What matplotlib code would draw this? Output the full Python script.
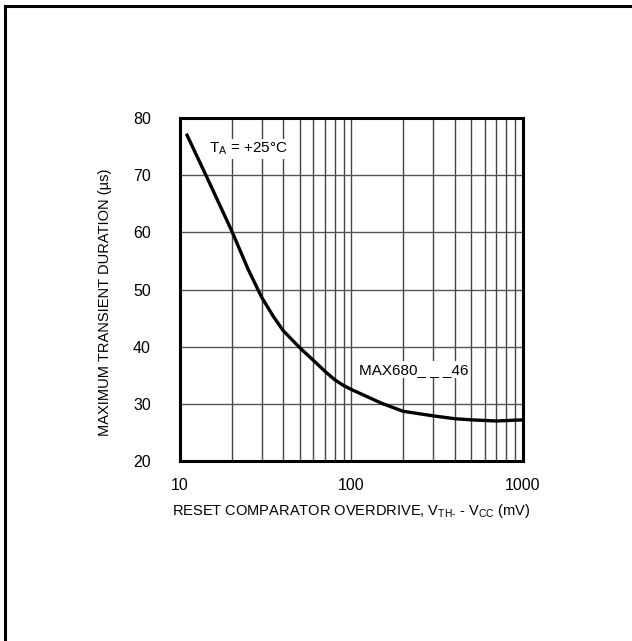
import matplotlib
matplotlib.use("Agg")
import matplotlib.pyplot as plt
from matplotlib.lines import Line2D
from matplotlib.ticker import FixedLocator, NullFormatter

# data
overdrive_mv = [11, 15, 20, 25, 30, 35, 40, 50, 60, 70, 80, 90, 100,
                150, 200, 300, 400, 500, 700, 1000]
duration_us = [77, 68.4, 60.3, 53.5, 48.6, 45.3, 42.8, 39.8, 37.6, 35.7, 34.2,
               33.2, 32.5, 30.1, 28.7, 27.9, 27.4, 27.2, 27.0, 27.2]

x_ticks = [10, 100, 1000]
x_ticklabels = ["10", "100", "1000"]
y_ticks = [20, 30, 40, 50, 60, 70, 80]

FONT = ["Liberation Sans Narrow", "Liberation Sans", "DejaVu Sans"]
plt.rcParams["font.family"] = FONT
plt.rcParams["mathtext.fontset"] = "custom"
plt.rcParams["mathtext.rm"] = "Liberation Sans"
plt.rcParams["mathtext.it"] = "Liberation Sans:italic"

fig = plt.figure(figsize=(6.32, 6.41), dpi=100)

# frame lines on top and left of the page
fig.add_artist(Line2D([0.008, 0.008], [0, 0.991], transform=fig.transFigure,
                      color="black", lw=2.2))
fig.add_artist(Line2D([0.008, 1.0], [0.991, 0.991], transform=fig.transFigure,
                      color="black", lw=2.2))

ax = fig.add_axes([0.2848, 0.2808, 0.5427, 0.535])

ax.set_xscale("log")
ax.set_xlim(10, 1000)
ax.set_ylim(20, 80)

minor = [m * d for d in (10, 100) for m in range(2, 10)]
ax.xaxis.set_major_locator(FixedLocator(x_ticks))
ax.xaxis.set_minor_locator(FixedLocator(minor))
ax.xaxis.set_minor_formatter(NullFormatter())
ax.set_xticklabels(x_ticklabels)
ax.set_yticks(y_ticks)

ax.grid(True, which="both", axis="x", color="#444444", lw=1.0)
ax.grid(True, which="major", axis="y", color="#555555", lw=1.0)
ax.set_axisbelow(True)

ax.tick_params(axis="both", which="both", length=0, labelsize=11.5)
ax.tick_params(axis="y", pad=21)
ax.tick_params(axis="x", pad=12)

for s in ax.spines.values():
    s.set_linewidth(2.2)

ax.plot(overdrive_mv, duration_us, color="black", lw=2.4, zorder=3)

ax.text(14.8, 74.6, "T$_{\\mathrm{A}}$ = +25°C", fontsize=11, va="center",
        ha="left", zorder=4,
        bbox=dict(facecolor="white", edgecolor="none", pad=1))
ax.text(110, 36, "MAX680_ _ _46", fontsize=11, va="center", ha="left",
        zorder=4, bbox=dict(facecolor="white", edgecolor="none", pad=1))

ax.set_xlabel("RESET COMPARATOR OVERDRIVE, V$_{\\mathrm{TH\\text{-}}}$ - V$_{\\mathrm{CC}}$ (mV)",
              fontsize=10.5, labelpad=7)
ax.set_ylabel("MAXIMUM TRANSIENT DURATION (µs)", fontsize=10.5)
ax.yaxis.set_label_coords(-0.197, 0.462)

fig.savefig("out.png", dpi=100)
